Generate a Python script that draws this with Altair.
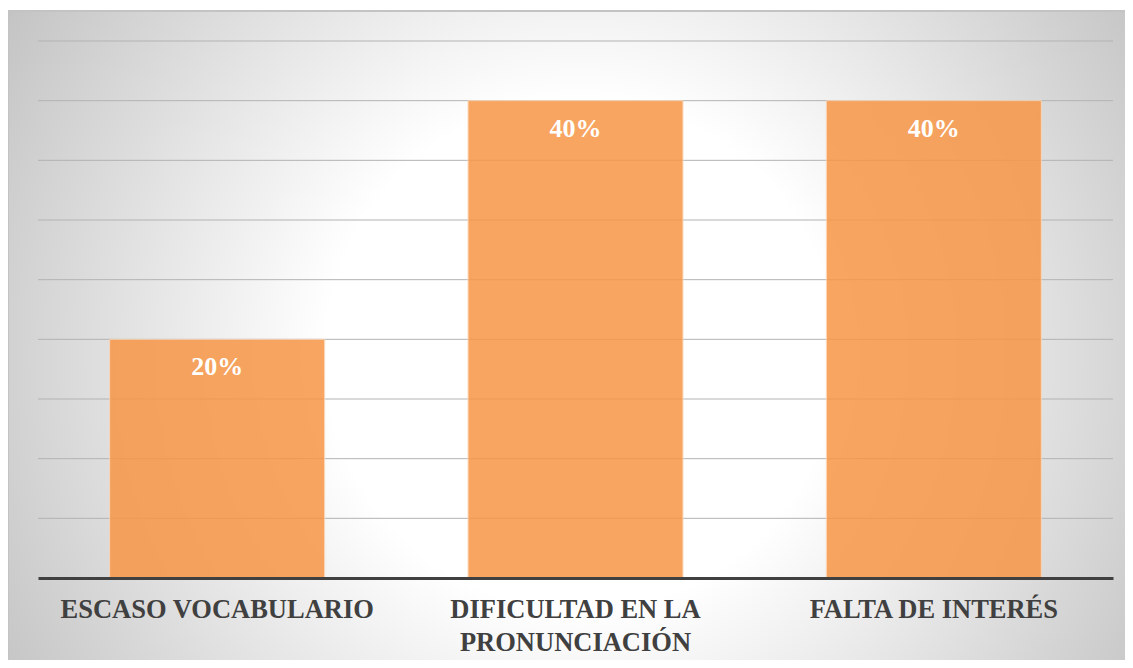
import altair as alt
import pandas as pd

categories = ["ESCASO VOCABULARIO", "DIFICULTAD EN LA|PRONUNCIACIÓN", "FALTA DE INTERÉS"]
values = [0.20, 0.40, 0.40]
value_labels = ["20%", "40%", "40%"]
grid_ticks = [0.05, 0.10, 0.15, 0.20, 0.25, 0.30, 0.35, 0.40, 0.45]

df = pd.DataFrame({"cat": categories, "value": values, "label": value_labels})
grid_df = pd.DataFrame({"tick": grid_ticks})
one = pd.DataFrame({"a": [0]})

W, H = 1075, 537
PAD = {"left": 30, "top": 33, "right": 12, "bottom": 82}
SERIF = "'Liberation Serif', 'Times New Roman', 'DejaVu Serif', serif"

yscale = alt.Scale(domain=[0, 0.45])
xscale = alt.Scale(domain=categories, paddingInner=0.4, paddingOuter=0.2)

grad = alt.RadialGradient(
    gradient="radial",
    stops=[
        alt.GradientStop(offset=0, color="#ffffff"),
        alt.GradientStop(offset=0.37, color="#ffffff"),
        alt.GradientStop(offset=1, color="#c1c1c1"),
    ],
    x1=0.5, y1=0.5, r1=0, x2=0.5, y2=0.5, r2=0.6,
)

bg = alt.Chart(one).mark_rect(fill=grad, stroke="#c3c3c3", strokeWidth=2).encode(
    x=alt.value(-30), x2=alt.value(W + 40), y=alt.value(-30), y2=alt.value(H + 120)
)

grid = alt.Chart(grid_df).mark_rule(color="#b3b3b3", strokeWidth=1).encode(
    y=alt.Y("tick:Q", scale=yscale, axis=None)
)

x_enc = alt.X(
    "cat:N", scale=xscale, sort=categories,
    axis=alt.Axis(
        title=None, labelAngle=0, ticks=False,
        domainColor="#404040", domainWidth=3,
        labelFont=SERIF, labelFontSize=26.5, labelFontWeight="bold",
        labelColor="#404040", labelPadding=18,
        labelExpr="split(datum.label, '|')", labelLineHeight=33, labelLimit=500,
        zindex=1,
    ),
)

bars = alt.Chart(df).mark_bar(
    color="#F79646", opacity=0.85, stroke="#fcd5b5", strokeWidth=1
).encode(
    x=x_enc,
    y=alt.Y("value:Q", scale=yscale, axis=None),
)

text = alt.Chart(df).mark_text(
    font=SERIF, fontSize=26, fontWeight="bold", color="white",
    baseline="top", dy=15,
).encode(
    x=alt.X("cat:N", scale=xscale, sort=categories),
    y=alt.Y("value:Q", scale=yscale),
    text="label:N",
)

chart = alt.layer(bg, grid, bars, text).properties(
    width=W, height=H, padding=PAD, autosize="none"
).configure_view(stroke=None)

chart.save("out.html", embed_options={"renderer": "svg", "actions": False})
